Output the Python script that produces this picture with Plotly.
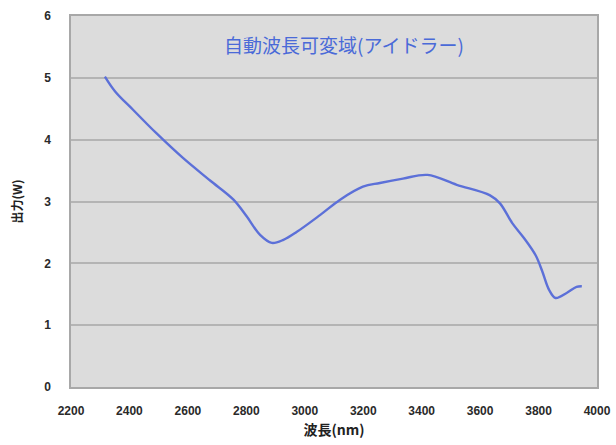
import plotly.graph_objects as go

wavelength = [2316, 2351, 2413, 2493, 2584, 2676, 2756, 2801, 2847, 2887, 2927, 2973,
              3052, 3121, 3199, 3257, 3336, 3420, 3520, 3634, 3668, 3710, 3750, 3790,
              3812, 3836, 3858, 3896, 3930, 3948]
power = [5.02, 4.78, 4.48, 4.10, 3.70, 3.34, 3.03, 2.76, 2.46, 2.33, 2.38, 2.51,
         2.78, 3.03, 3.24, 3.30, 3.37, 3.43, 3.27, 3.10, 2.97, 2.65, 2.41, 2.13,
         1.88, 1.57, 1.44, 1.52, 1.62, 1.63]
x_ticks = [2200, 2400, 2600, 2800, 3000, 3200, 3400, 3600, 3800, 4000]
y_ticks = [0, 1, 2, 3, 4, 5, 6]

fig = go.Figure()
fig.add_trace(go.Scatter(
    x=wavelength, y=power, mode="lines",
    line=dict(color="#5c70d8", width=2.4, shape="spline", smoothing=1.0),
    showlegend=False, hoverinfo="skip",
))

tick_font = dict(family="Liberation Sans", size=12, color="#2a2a2a", weight="bold")

fig.update_layout(
    width=616, height=445,
    margin=dict(l=71, r=19, t=16, b=58),
    paper_bgcolor="white",
    plot_bgcolor="#dcdcdc",
    annotations=[dict(
        text="自動波長可変域(アイドラー)", x=0.519, y=0.922, xref="paper", yref="paper",
        xanchor="center", yanchor="middle", showarrow=False,
        font=dict(family="Noto Sans CJK JP", size=19, color="#4a6ad8"),
    )],
)
fig.update_xaxes(
    range=[2200, 4000], tickvals=x_ticks, ticktext=[str(v) for v in x_ticks],
    showgrid=False, zeroline=False, showline=True, linecolor="#a8a8a8", linewidth=1.5,
    mirror=True, ticks="", tickfont=tick_font, ticklabelstandoff=12, automargin=False,
    title=dict(text="波長(nm)", font=dict(family="Noto Sans CJK JP", size=14, color="#222222",
               weight="bold"), standoff=8),
)
fig.update_yaxes(
    range=[0, 6], tickvals=y_ticks, ticktext=[str(v) for v in y_ticks],
    showgrid=True, gridcolor="#b4b4b4", gridwidth=1.5, zeroline=False,
    showline=True, linecolor="#a8a8a8", linewidth=1.5, mirror=True, ticks="",
    tickfont=tick_font, ticklabelstandoff=16, automargin=False,
    title=dict(text="出力(W)", font=dict(family="Noto Sans CJK JP", size=12, color="#222222",
               weight="bold"), standoff=19),
)

fig.write_html("out.html", config={"displayModeBar": False},
               post_script="document.body.style.margin='0px';")
